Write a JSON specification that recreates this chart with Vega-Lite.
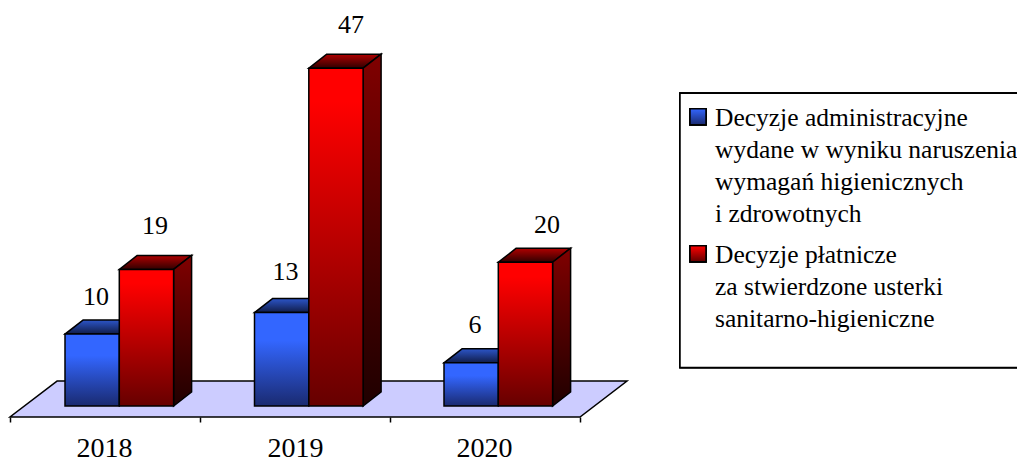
{
"$schema":"https://vega.github.io/schema/vega-lite/v6.json",
"width":1017,"height":417,
"autosize":{"type":"none"},
"padding":{"left":0,"top":0,"right":0,"bottom":42},
"background":"white",
"config":{"view":{"stroke":null},"font":"Liberation Serif"},
"datasets":{
 "bars":[
  {"year":2018,"series":"Decyzje administracyjne wydane w wyniku naruszenia wymagań higienicznych i zdrowotnych","value":10},
  {"year":2019,"series":"Decyzje administracyjne wydane w wyniku naruszenia wymagań higienicznych i zdrowotnych","value":13},
  {"year":2020,"series":"Decyzje administracyjne wydane w wyniku naruszenia wymagań higienicznych i zdrowotnych","value":6},
  {"year":2018,"series":"Decyzje płatnicze za stwierdzone usterki sanitarno-higieniczne","value":19},
  {"year":2019,"series":"Decyzje płatnicze za stwierdzone usterki sanitarno-higieniczne","value":47},
  {"year":2020,"series":"Decyzje płatnicze za stwierdzone usterki sanitarno-higieniczne","value":20}
 ],
 "floor":[{"t":0},{"t":1}],
 "legendLines":[
  {"entry":0,"line":0,"text":"Decyzje administracyjne"},
  {"entry":0,"line":1,"text":"wydane w wyniku naruszenia"},
  {"entry":0,"line":2,"text":"wymagań higienicznych"},
  {"entry":0,"line":3,"text":"i zdrowotnych"},
  {"entry":1,"line":0,"text":"Decyzje płatnicze"},
  {"entry":1,"line":1,"text":"za stwierdzone usterki"},
  {"entry":1,"line":2,"text":"sanitarno-higieniczne"}
 ]
},
"data":{"name":"bars"},
"transform":[
 {"calculate":"indexof(datum.series,'Decyzje płatnicze')==0","as":"isRed"},
 {"calculate":"65+(datum.year-2018)*189.5+(datum.isRed?54.3:0)","as":"x0"},
 {"calculate":"datum.x0+54.3","as":"x1"},
 {"calculate":"datum.series+datum.year","as":"key"}
],
"layer":[
 {"data":{"name":"floor"},
  "transform":[
   {"calculate":"10+47*datum.t","as":"fx"},
   {"calculate":"580+47*datum.t","as":"fx2"},
   {"calculate":"-1.53+5*datum.t","as":"fy"}],
  "mark":{"type":"area","orient":"horizontal","fill":"#ccccff","stroke":"black","strokeWidth":1.5},
  "encoding":{
   "x":{"field":"fx","type":"quantitative","stack":null,"scale":{"domain":[0,1017],"nice":false,"zero":false},
    "axis":{"title":null,"domain":false,"grid":false,"values":[10,104,200,295,390,484,580],"tickColor":"black","tickSize":5,"tickWidth":1.5,
     "tickOpacity":{"expr":"indexof([104,295,484],datum.value)>=0?0:1"},
     "labelExpr":"datum.value==104?'2018':datum.value==295?'2019':datum.value==484?'2020':''",
     "labelFont":"Liberation Serif","labelFontSize":28,"labelColor":"black","labelPadding":12,"labelFlush":false,"labelOverlap":false}},
   "x2":{"field":"fx2"},
   "y":{"field":"fy","type":"quantitative","scale":{"domain":[-1.53,56.48],"nice":false,"zero":false},"axis":null}
  }},
 {"transform":[
   {"filter":"!datum.isRed"},
   {"calculate":"[0,1]","as":"t"},{"flatten":["t"]},
   {"calculate":"datum.x0+18*datum.t","as":"ax"},
   {"calculate":"datum.x1+18*datum.t","as":"ax2"},
   {"calculate":"datum.value+1.95*datum.t","as":"ay"}],
  "mark":{"type":"area","orient":"horizontal","stroke":"black","strokeWidth":1.5,
   "fill":{"gradient":"linear","x1":0,"y1":0,"x2":0,"y2":1,"stops":[{"offset":0,"color":"#2c55c8"},{"offset":1,"color":"#101c48"}]}},
  "encoding":{"x":{"field":"ax","type":"quantitative","stack":null},"x2":{"field":"ax2"},"y":{"field":"ay","type":"quantitative"},"detail":{"field":"key"}}},
 {"transform":[
   {"filter":"datum.isRed"},
   {"calculate":"[0,1]","as":"t"},{"flatten":["t"]},
   {"calculate":"datum.x0+18*datum.t","as":"ax"},
   {"calculate":"datum.x1+18*datum.t","as":"ax2"},
   {"calculate":"datum.value+1.95*datum.t","as":"ay"}],
  "mark":{"type":"area","orient":"horizontal","stroke":"black","strokeWidth":1.5,
   "fill":{"gradient":"linear","x1":0,"y1":0,"x2":0,"y2":1,"stops":[{"offset":0,"color":"#b00000"},{"offset":1,"color":"#300000"}]}},
  "encoding":{"x":{"field":"ax","type":"quantitative","stack":null},"x2":{"field":"ax2"},"y":{"field":"ay","type":"quantitative"},"detail":{"field":"key"}}},
 {"transform":[
   {"filter":"datum.isRed"},
   {"calculate":"[0,1]","as":"t"},{"flatten":["t"]},
   {"calculate":"datum.x1+18*datum.t","as":"ax"},
   {"calculate":"1.95*datum.t","as":"ay2"},
   {"calculate":"datum.value+1.95*datum.t","as":"ay"}],
  "mark":{"type":"area","orient":"vertical","stroke":"black","strokeWidth":1.5,
   "fill":{"gradient":"linear","x1":0,"y1":0,"x2":0,"y2":1,"stops":[{"offset":0,"color":"#800000"},{"offset":1,"color":"#200000"}]}},
  "encoding":{"x":{"field":"ax","type":"quantitative"},"y":{"field":"ay","type":"quantitative"},"y2":{"field":"ay2"},"detail":{"field":"key"}}},
 {"transform":[{"filter":"!datum.isRed"}],
  "mark":{"type":"bar","stroke":"black","strokeWidth":1.5,
   "fill":{"gradient":"linear","x1":0,"y1":0,"x2":0,"y2":1,"stops":[{"offset":0,"color":"#3366ff"},{"offset":0.3,"color":"#3366ff"},{"offset":1,"color":"#1a2a70"}]}},
  "encoding":{"x":{"field":"x0","type":"quantitative"},"x2":{"field":"x1"},"y":{"field":"value","type":"quantitative"},"y2":{"datum":0}}},
 {"transform":[{"filter":"datum.isRed"}],
  "mark":{"type":"bar","stroke":"black","strokeWidth":1.5,
   "fill":{"gradient":"linear","x1":0,"y1":0,"x2":0,"y2":1,"stops":[{"offset":0,"color":"#ff0000"},{"offset":0.1,"color":"#ff0000"},{"offset":1,"color":"#660000"}]}},
  "encoding":{"x":{"field":"x0","type":"quantitative"},"x2":{"field":"x1"},"y":{"field":"value","type":"quantitative"},"y2":{"datum":0}}},
 {"transform":[
   {"calculate":"datum.isRed?155+196*(datum.year-2018):96+189.5*(datum.year-2018)","as":"lx"},
   {"calculate":"datum.value+(datum.value==13?0.55:datum.value==19||datum.value==47?0.83:datum.value==6?0.14:0)","as":"ly"}],
  "mark":{"type":"text","font":"Liberation Serif","fontSize":26,"color":"black","dy":-37,"baseline":"middle"},
  "encoding":{"x":{"field":"lx","type":"quantitative"},"y":{"field":"ly","type":"quantitative"},"text":{"field":"value","type":"quantitative"}}},
 {"mark":{"type":"rect","fill":"white","stroke":"black","strokeWidth":1.5},
  "encoding":{"x":{"datum":680},"x2":{"datum":1040},"y":{"datum":43.52},"y2":{"datum":5.36}}},
 {"mark":{"type":"point","shape":"square","size":256,"filled":true,"opacity":1,"stroke":"black","strokeWidth":1.5,
   "fill":{"gradient":"linear","x1":0,"y1":0,"x2":0,"y2":1,"stops":[{"offset":0,"color":"#3366ff"},{"offset":1,"color":"#1a2a70"}]}},
  "encoding":{"x":{"datum":698},"y":{"datum":40.25}}},
 {"mark":{"type":"point","shape":"square","size":256,"filled":true,"opacity":1,"stroke":"black","strokeWidth":1.5,
   "fill":{"gradient":"linear","x1":0,"y1":0,"x2":0,"y2":1,"stops":[{"offset":0,"color":"#ff0000"},{"offset":1,"color":"#600000"}]}},
  "encoding":{"x":{"datum":698},"y":{"datum":21.17}}},
 {"data":{"name":"legendLines"},
  "transform":[{"calculate":"(405.5-(datum.entry==0?118:255)-32*datum.line)/7.18","as":"ty"}],
  "mark":{"type":"text","font":"Liberation Serif","fontSize":25.5,"color":"black","align":"left","baseline":"middle","limit":0},
  "encoding":{"x":{"datum":715},"y":{"field":"ty","type":"quantitative"},"text":{"field":"text"}}}
]
}
